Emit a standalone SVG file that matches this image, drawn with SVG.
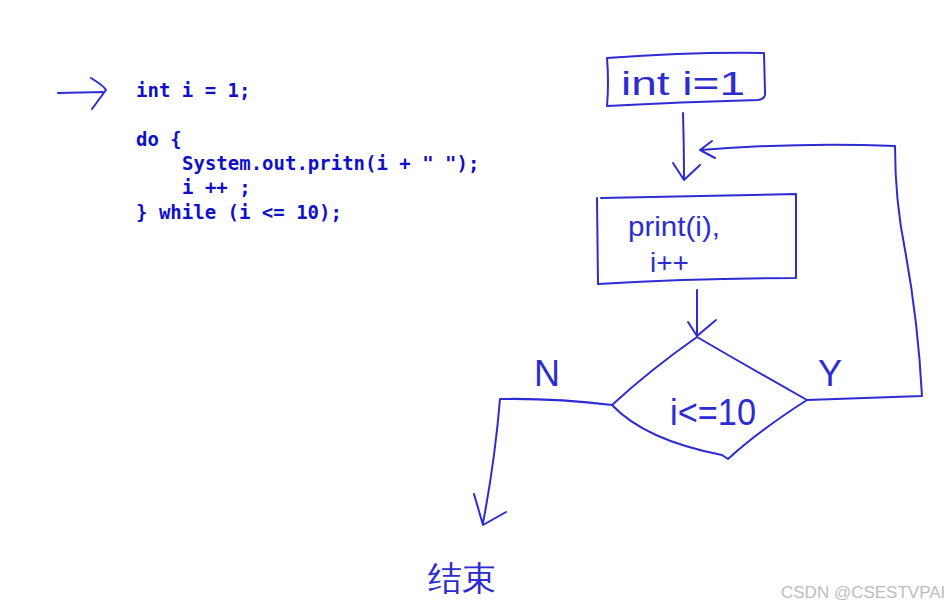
<svg xmlns="http://www.w3.org/2000/svg" width="952" height="610" viewBox="0 0 952 610">
<style>
.code{font-family:"DejaVu Sans Mono","Liberation Mono",monospace;font-weight:bold;font-size:19px;fill:#1010c8;white-space:pre}
.ink{fill:none;stroke:#2c2cd2;stroke-width:2;stroke-linecap:round;stroke-linejoin:round}
.hand{font-family:"Liberation Sans","DejaVu Sans",sans-serif;fill:#2c2cd2}
.wm{font-family:"Liberation Sans",sans-serif;font-size:17px;fill:#bdbdbd}
</style>
<rect width="952" height="610" fill="#ffffff"/>

<g id="code">
<path class="ink" d="M58,93 L103,92 M91,78 Q104,86 106,90 Q100,98 92,109"/>
<text class="code" x="136" y="97">int i = 1;</text>
<text class="code" x="136" y="146">do {</text>
<text class="code" x="182" y="170">System.out.pritn(i + " ");</text>
<text class="code" x="182" y="194">i ++ ;</text>
<text class="code" x="136" y="219">} while (i &lt;= 10);</text>
</g>

<g id="start">
<path class="ink" d="M607,58 Q609,82 607,106 Q680,102 758,100 Q766,99 765,92 L764,53 Q690,52 607,58"/>
<text class="hand" x="621" y="95" font-size="34" textLength="124" lengthAdjust="spacingAndGlyphs">int i=1</text>
</g>

<g id="process">
<path class="ink" d="M597,198 L598,284 Q700,278 796,278 L796,194 Q700,196 601,198"/>
<text class="hand" x="628" y="236" font-size="28" textLength="92" lengthAdjust="spacingAndGlyphs">print(i),</text>
<text class="hand" x="650" y="272" font-size="28">i++</text>
</g>

<g id="decision">
<path class="ink" d="M697,337 Q650,370 612,405 Q645,440 722,455 L728,459 Q760,430 807,400 Q745,365 697,337"/>
<text class="hand" x="670" y="425" font-size="36" textLength="86" lengthAdjust="spacingAndGlyphs">i&lt;=10</text>
</g>

<g id="end">
<text class="hand" x="428" y="590" font-size="34" font-family="Noto Sans CJK SC,sans-serif">结束</text>
</g>

<g id="connectors">
<path class="ink" d="M683,113 Q684,150 684,180 M673,163 L684,180 L700,165"/>
<path class="ink" d="M697,290 L697,336 M688,322 L697,336 L716,320"/>
<path class="ink" d="M807,400 Q860,398 922,396 Q918,320 905,250 Q895,200 895,146 Q800,142 700,150 M712,141 L700,150 L715,158"/>
<path class="ink" d="M612,405 Q555,398 500,399 Q495,460 483,523 M474,494 L483,525 L506,512"/>
<text class="hand" x="534" y="386" font-size="36">N</text>
<text class="hand" x="818" y="386" font-size="36">Y</text>
</g>

<g id="watermark">
<text class="wm" x="781" y="598">CSDN @CSESTVPAI</text>
</g>
</svg>
